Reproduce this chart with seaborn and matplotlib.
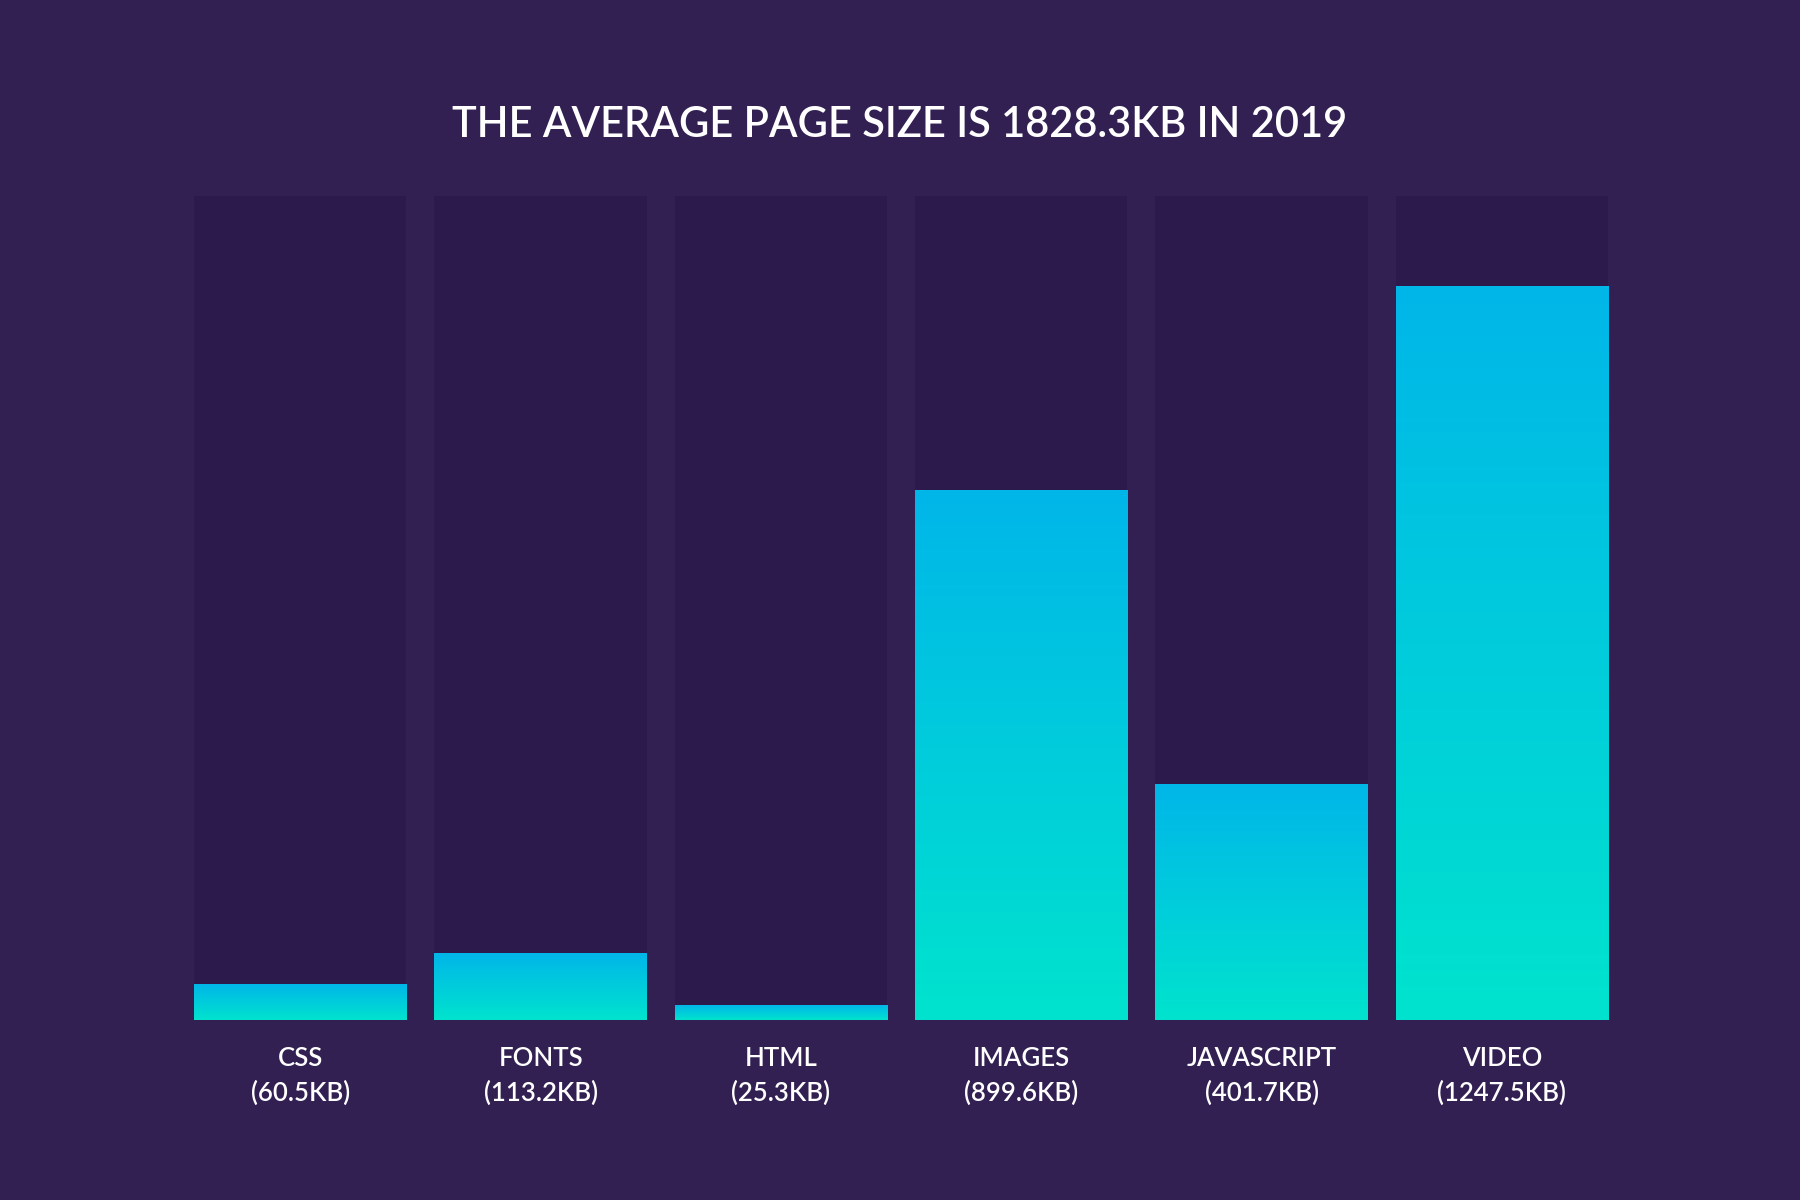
import matplotlib
matplotlib.use("Agg")
import matplotlib.pyplot as plt
import seaborn as sns
import numpy as np
import pandas as pd
from matplotlib.colors import LinearSegmentedColormap

# ---- data ----
categories = ["CSS", "FONTS", "HTML", "IMAGES", "JAVASCRIPT", "VIDEO"]
sizes_kb = [60.5, 113.2, 25.3, 899.6, 401.7, 1247.5]
track_max = 1400.0
title = "THE AVERAGE PAGE SIZE IS 1828.3KB IN 2019"

labels = [f"{c}\n({v}KB)" for c, v in zip(categories, sizes_kb)]
df = pd.DataFrame({"label": labels, "size": sizes_kb,
                   "track": [track_max] * len(categories)})

BG = "#322052"
TRACK = "#2C1A4D"
TOP = "#00B6E9"
BOTTOM = "#00E3CE"

sns.set_theme(style="white")
plt.rcParams["font.family"] = ["Lato", "DejaVu Sans"]

fig = plt.figure(figsize=(18, 12), dpi=100, facecolor=BG)
ax = fig.add_axes([0.1078, 0.15, 0.7856, 0.6867])
ax.set_facecolor(BG)

width = 0.884
sns.barplot(data=df, x="label", y="track", color=TRACK, width=width,
            saturation=1, ax=ax, zorder=1, linewidth=0, edgecolor="none")
n_track = len(ax.patches)
sns.barplot(data=df, x="label", y="size", color=TOP, width=width,
            saturation=1, ax=ax, zorder=2, linewidth=0, edgecolor="none")

for p in ax.patches:
    p.set_linewidth(0)
    p.set_edgecolor("none")

cmap = LinearSegmentedColormap.from_list("grad", [BOTTOM, TOP])
grad = np.linspace(0, 1, 256).reshape(-1, 1)
for p in ax.patches[n_track:]:
    x0, y0 = p.get_x(), p.get_y()
    w, h = p.get_width(), p.get_height()
    im = ax.imshow(grad, cmap=cmap, origin="lower", aspect="auto",
                   extent=(x0, x0 + w, y0, y0 + h), zorder=3)
    im.set_clip_path(p)
    p.set_alpha(0)

ax.set_xlim(-width / 2, len(categories) - 1 + width / 2)
ax.set_ylim(0, track_max)
ax.set_xlabel("")
ax.set_ylabel("")
ax.set_yticks([])
for s in ax.spines.values():
    s.set_visible(False)
ax.tick_params(axis="x", length=0, pad=19, colors="white")
for t in ax.get_xticklabels():
    t.set_fontsize(18.5)
    t.set_fontweight("semibold")
    t.set_linespacing(1.45)
    t.set_color("white")

fig.text(0.5, 1 - 125 / 1200, title, ha="center", va="center",
         color="white", fontsize=30, fontweight="semibold")

fig.savefig("out.png", dpi=100, facecolor=BG)
